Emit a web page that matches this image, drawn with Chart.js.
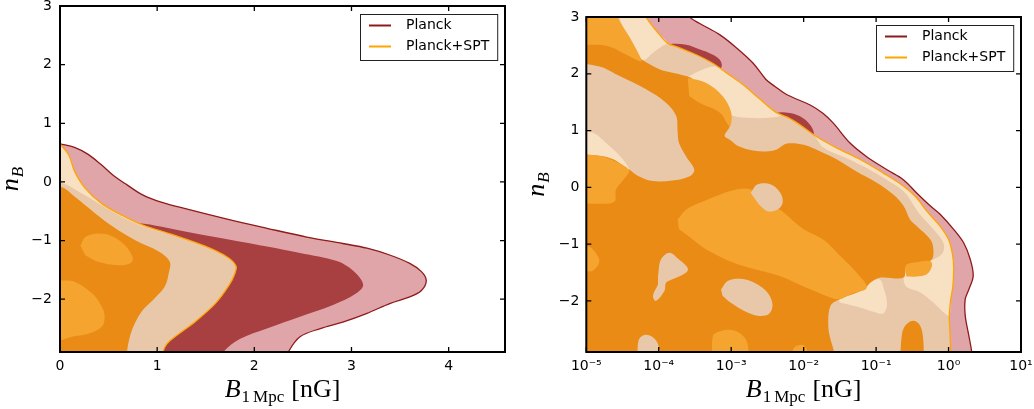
<!DOCTYPE html>
<html>
<head>
<meta charset="utf-8">
<title>Primordial magnetic field constraints</title>
<script src="https://cdn.jsdelivr.net/npm/chart.js@4.4.1/dist/chart.umd.min.js"></script>
<style>
  html, body { margin: 0; padding: 0; background: #fff; }
  #wrap { position: relative; width: 1034px; height: 409px; }
  canvas { position: absolute; top: 0; }
  #linPanel { left: 0; }
  #logPanel { left: 517px; }
</style>
</head>
<body>
<div id="wrap">
  <canvas id="linPanel" width="517" height="409"></canvas>
  <canvas id="logPanel" width="517" height="409"></canvas>
</div>
<script>
// ---- axis ticks / legend ----
const LIN_B_TICKS = [0, 1, 2, 3, 4];
const LOG_B_DECADES = [-5, -4, -3, -2, -1, 0, 1];
const NB_TICKS = [-2, -1, 0, 1, 2, 3];
const LEGEND_LABELS = ['Planck', 'Planck+SPT'];

// ---- left panel contours: [B_1Mpc (nG), n_B] ----
const LIN_PLANCK_95 = [[0, 0.65], [0.15, 0.59], [0.29, 0.47], [0.42, 0.30], [0.55, 0.11], [0.69, -0.05], [0.85, -0.22], [1.05, -0.35],
  [1.30, -0.46], [1.71, -0.63], [2.13, -0.79], [2.54, -0.94], [2.91, -1.05], [3.16, -1.13], [3.40, -1.25], [3.60, -1.39],
  [3.72, -1.53], [3.77, -1.68], [3.72, -1.85], [3.60, -1.96], [3.40, -2.07], [3.16, -2.24], [2.91, -2.39], [2.68, -2.50],
  [2.47, -2.64], [2.35, -2.90], [2.31, -3.10], [-0.3, -3.10], [-0.3, 0.65]];
const LIN_PLANCK_68 = [[0.72, -0.76], [0.80, -0.70], [1.30, -0.85], [1.83, -1.01], [2.13, -1.10], [2.47, -1.21], [2.85, -1.35],
  [3.02, -1.52], [3.12, -1.75], [3.05, -1.90], [2.81, -2.10], [2.47, -2.30], [2.13, -2.50], [1.85, -2.68], [1.68, -2.90],
  [1.62, -3.10], [0.95, -3.10], [0.95, -1.50]];
const LIN_SPT_95 = [[0, 0.65], [0.09, 0.46], [0.15, 0.18], [0.26, -0.11], [0.43, -0.37], [0.64, -0.57], [0.86, -0.74],
  [1.16, -0.90], [1.50, -1.10], [1.72, -1.28], [1.81, -1.43], [1.80, -1.56], [1.74, -1.76], [1.60, -2.07], [1.40, -2.37],
  [1.20, -2.62], [1.10, -2.76], [1.06, -2.90], [1.05, -3.10], [-0.3, -3.10], [-0.3, 0.65]];
const LIN_SPT_MID = [[-0.3, -0.01], [0, -0.01], [0.25, -0.22], [0.45, -0.42], [0.62, -0.58], [0.80, -0.72], [0.95, -0.81],
  [1.16, -0.90], [1.50, -1.10], [1.72, -1.28], [1.81, -1.43], [1.80, -1.56], [1.74, -1.76], [1.60, -2.07], [1.40, -2.37],
  [1.20, -2.62], [1.10, -2.76], [1.06, -2.90], [1.05, -3.10], [-0.3, -3.10]];
const LIN_SPT_68 = [[-0.3, -0.08], [0, -0.08], [0.15, -0.25], [0.35, -0.52], [0.55, -0.77], [0.78, -1.00], [1.02, -1.19],
  [1.13, -1.36], [1.12, -1.55], [1.08, -1.78], [0.97, -1.99], [0.85, -2.19], [0.76, -2.45], [0.71, -2.70], [0.69, -2.90],
  [0.68, -3.10], [-0.3, -3.10]];
const LIN_SPT_PEAK_1 = [[0.21, -1.09], [0.26, -0.94], [0.39, -0.88], [0.53, -0.92], [0.67, -1.08], [0.75, -1.30],
  [0.72, -1.39], [0.60, -1.42], [0.39, -1.36], [0.26, -1.25]];
const LIN_SPT_PEAK_2 = [[-0.3, -1.68], [0, -1.68], [0.15, -1.70], [0.33, -1.90], [0.43, -2.13], [0.46, -2.30], [0.43, -2.47],
  [0.29, -2.59], [0.12, -2.64], [0, -2.70], [-0.3, -2.70]];

// ---- right panel contours: [log10 B_1Mpc, n_B] ----
const LOG_PLANCK_95 = [[-3.62, 3.2], [-3.58, 3.01], [-3.44, 2.89], [-3.16, 2.69], [-2.93, 2.46], [-2.70, 2.19], [-2.52, 1.90],
  [-2.40, 1.78], [-2.23, 1.63], [-1.91, 1.45], [-1.73, 1.30], [-1.59, 1.13], [-1.36, 0.78], [-1.13, 0.54], [-0.85, 0.31],
  [-0.62, 0.13], [-0.44, -0.10], [-0.25, -0.33], [-0.12, -0.47], [0.07, -0.74], [0.21, -0.98], [0.30, -1.27], [0.34, -1.56],
  [0.28, -1.80], [0.23, -1.97], [0.23, -2.26], [0.28, -2.61], [0.32, -2.90], [0.33, -3.10], [-5.4, -3.10], [-5.4, 3.2]];
const LOG_PLANCK_68_A = [[-3.90, 2.46], [-3.85, 2.52], [-3.62, 2.51], [-3.44, 2.43], [-3.26, 2.34], [-3.16, 2.25],
  [-3.13, 2.14], [-3.18, 2.05], [-3.50, 2.22]];
const LOG_PLANCK_68_B = [[-2.45, 1.22], [-2.38, 1.31], [-2.19, 1.31], [-2.05, 1.25], [-1.93, 1.13], [-1.86, 0.97],
  [-1.90, 0.85], [-2.20, 1.05]];
const LOG_SPT_95 = [[-4.22, 3.2], [-4.18, 3.01], [-4.01, 2.72], [-3.88, 2.54], [-3.72, 2.46], [-3.49, 2.34], [-3.26, 2.19],
  [-3.07, 2.02], [-2.84, 1.81], [-2.61, 1.56], [-2.38, 1.32], [-2.20, 1.22], [-2.05, 1.10], [-1.82, 0.89], [-1.54, 0.69],
  [-1.22, 0.49], [-0.90, 0.25], [-0.62, 0.02], [-0.45, -0.17], [-0.30, -0.42], [-0.12, -0.68], [0.0, -0.92], [0.05, -1.15],
  [0.07, -1.39], [0.06, -1.74], [0.03, -1.97], [0.01, -2.26], [0.02, -2.56], [0.03, -2.90], [0.04, -3.10], [-5.4, -3.10],
  [-5.4, 3.2]];
// pale patches inside the Planck+SPT region
const LOG_SPT_PALE_A = [[-4.62, 3.2], [-4.22, 3.2], [-4.18, 3.01], [-4.01, 2.72], [-3.88, 2.54], [-3.95, 2.49], [-4.08, 2.37],
  [-4.22, 2.24], [-4.34, 2.42], [-4.45, 2.70]];
const LOG_SPT_PALE_B = [[-3.62, 1.93], [-3.44, 2.05], [-3.20, 2.13], [-3.07, 2.02], [-2.84, 1.81], [-2.61, 1.56], [-2.38, 1.32],
  [-2.30, 1.27], [-2.45, 1.23], [-2.70, 1.22], [-2.98, 1.26], [-3.10, 1.40], [-3.28, 1.62], [-3.52, 1.80]];
const LOG_SPT_PALE_C = [[-1.86, 0.93], [-1.82, 0.89], [-1.54, 0.69], [-1.22, 0.49], [-0.90, 0.25], [-0.62, 0.02], [-0.45, -0.17],
  [-0.30, -0.42], [-0.12, -0.68], [0.0, -0.92], [0.05, -1.15], [0.07, -1.39], [0.06, -1.74], [0.03, -1.97], [0.01, -2.26],
  [-0.07, -2.20], [-0.21, -2.03], [-0.39, -1.85], [-0.58, -1.75], [-0.62, -1.62], [-0.58, -1.39], [-0.35, -1.33],
  [-0.21, -1.27], [-0.08, -1.15], [-0.07, -0.98], [-0.20, -0.75], [-0.41, -0.45], [-0.62, -0.07], [-0.85, 0.13],
  [-1.13, 0.34], [-1.40, 0.51], [-1.63, 0.63], [-1.75, 0.72]];
const LOG_SPT_PALE_D = [[-1.54, -1.91], [-1.21, -1.74], [-0.96, -1.62], [-0.89, -1.80], [-0.85, -2.06], [-0.90, -2.22],
  [-1.04, -2.19], [-1.27, -2.10], [-1.50, -2.03]];
const LOG_SPT_PALE_E = [[-5.4, 1.0], [-4.93, 0.97], [-4.70, 0.75], [-4.50, 0.50], [-4.41, 0.31], [-4.62, 0.49], [-4.85, 0.56],
  [-5.4, 0.60]];
// main 68% body
const LOG_SPT_68 = [[-5.4, 2.56], [-4.80, 2.56], [-4.57, 2.49], [-4.39, 2.36], [-4.22, 2.24], [-3.99, 2.08], [-3.81, 2.02],
  [-3.62, 1.96], [-3.51, 1.89], [-3.24, 1.54], [-3.05, 1.30], [-3.02, 1.08], [-3.09, 0.91], [-3.02, 0.84], [-2.89, 0.72],
  [-2.70, 0.65], [-2.52, 0.63], [-2.38, 0.66], [-2.23, 0.77], [-2.00, 0.75], [-1.77, 0.63], [-1.54, 0.49], [-1.27, 0.28],
  [-0.99, 0.08], [-0.76, -0.13], [-0.62, -0.33], [-0.53, -0.57], [-0.44, -0.68], [-0.25, -0.92], [-0.21, -1.09],
  [-0.23, -1.27], [-0.35, -1.33], [-0.58, -1.39], [-0.62, -1.59], [-0.94, -1.59], [-1.08, -1.68], [-1.17, -1.80],
  [-1.50, -1.97], [-1.63, -2.09], [-1.66, -2.44], [-1.63, -2.67], [-1.58, -2.90], [-1.57, -3.10], [-5.4, -3.10]];
const LOG_SPT_68_LOW = [[-0.67, -3.10], [-0.64, -2.56], [-0.58, -2.41], [-0.48, -2.35], [-0.39, -2.44], [-0.35, -2.67],
  [-0.34, -3.10]];
// tan islands
const LOG_SPT_MID_A = [[-5.4, 2.22], [-4.82, 2.13], [-4.54, 1.96], [-4.18, 1.73], [-3.90, 1.49], [-3.76, 1.26], [-3.74, 0.99],
  [-3.72, 0.78], [-3.62, 0.54], [-3.51, 0.31], [-3.58, 0.19], [-3.81, 0.12], [-4.08, 0.11], [-4.27, 0.19], [-4.41, 0.32],
  [-4.59, 0.54], [-4.82, 0.78], [-5.4, 0.98]];
const LOG_SPT_MID_B = [[-2.73, -0.10], [-2.64, 0.05], [-2.45, 0.05], [-2.32, -0.10], [-2.29, -0.27], [-2.36, -0.39],
  [-2.50, -0.42], [-2.62, -0.30]];
const LOG_SPT_MID_C = [[-4.01, -1.56], [-3.97, -1.27], [-3.85, -1.15], [-3.72, -1.27], [-3.60, -1.42], [-3.62, -1.50],
  [-3.81, -1.62], [-3.90, -1.68], [-3.92, -1.82], [-4.04, -2.00], [-4.08, -1.91], [-4.01, -1.71]];
const LOG_SPT_MID_D = [[-3.14, -1.80], [-3.05, -1.65], [-2.87, -1.61], [-2.68, -1.68], [-2.50, -1.85], [-2.43, -2.06],
  [-2.48, -2.23], [-2.64, -2.26], [-2.82, -2.18], [-3.01, -2.03], [-3.12, -1.91]];
const LOG_SPT_MID_E = [[-4.29, -3.10], [-4.28, -2.70], [-4.20, -2.60], [-4.09, -2.63], [-4.01, -2.76], [-3.96, -3.10]];
// bright peaks
const LOG_SPT_PEAK_A = [[-5.4, 3.2], [-4.58, 3.2], [-4.57, 3.01], [-4.41, 2.66], [-4.31, 2.43], [-4.24, 2.22], [-4.36, 2.28],
  [-4.50, 2.37], [-4.64, 2.46], [-4.82, 2.51], [-5.4, 2.50]];
const LOG_SPT_PEAK_B = [[-5.4, 0.60], [-4.85, 0.56], [-4.62, 0.47], [-4.41, 0.31], [-4.45, 0.19], [-4.59, -0.04],
  [-4.61, -0.25], [-4.82, -0.29], [-5.4, -0.25]];
const LOG_SPT_PEAK_C = [[-3.60, 1.93], [-3.35, 1.84], [-3.12, 1.61], [-3.00, 1.32], [-3.02, 1.08], [-3.16, 1.32],
  [-3.44, 1.49], [-3.58, 1.61]];
const LOG_SPT_PEAK_D = [[-3.74, -0.57], [-3.62, -0.39], [-3.39, -0.25], [-3.16, -0.13], [-2.93, -0.04], [-2.73, -0.04],
  [-2.59, -0.22], [-2.33, -0.39], [-2.00, -0.74], [-1.73, -0.92], [-1.54, -1.15], [-1.27, -1.50], [-1.13, -1.77],
  [-1.35, -1.88], [-1.50, -1.97], [-1.63, -1.94], [-1.96, -1.77], [-2.33, -1.56], [-2.74, -1.42], [-3.02, -1.30],
  [-3.35, -1.09], [-3.53, -0.92], [-3.72, -0.74]];
const LOG_SPT_PEAK_E = [[-0.60, -1.47], [-0.58, -1.36], [-0.44, -1.32], [-0.25, -1.30], [-0.23, -1.39], [-0.30, -1.53],
  [-0.44, -1.57], [-0.58, -1.57]];
const LOG_SPT_PEAK_F = [[-5.4, -1.02], [-5.0, -1.03], [-4.89, -1.12], [-4.82, -1.30], [-4.91, -1.47], [-5.0, -1.48],
  [-5.4, -1.48]];
const LOG_SPT_PEAK_G = [[-3.26, -3.10], [-3.25, -2.61], [-3.14, -2.53], [-3.01, -2.51], [-2.87, -2.58], [-2.78, -2.73],
  [-2.75, -3.10]];
const LOG_SPT_PEAK_H = [[-2.19, -3.10], [-2.13, -2.82], [-1.99, -2.79], [-1.90, -3.10]];

const COLOR = {
  planck95: '#e0a5a8', planck68: '#a83f41', planckEdge: '#8e1a1a',
  sptPale: '#f8e1c3', sptMid: '#e9c8a9', spt68: '#e98b14', sptPeak: '#f5a42f', sptEdge: '#ffa500'
};
const LEGEND_COLORS = [COLOR.planckEdge, COLOR.sptEdge];

const SERIF = '"Liberation Serif", "DejaVu Serif", serif';
const X_TITLE = [
  { text: 'B', font: 'italic 26px ' + SERIF },
  { text: '1', font: '17px ' + SERIF, dy: 5, gap: 1 },
  { text: 'Mpc', font: '17px ' + SERIF, dy: 5, gap: 3 },
  { text: '[nG]', font: '26px ' + SERIF, gap: 7 }
];
const Y_TITLE = [
  { text: 'n', font: 'italic 26px ' + SERIF },
  { text: 'B', font: 'italic 17px ' + SERIF, dy: 5, gap: 1 }
];

Chart.defaults.font.family = '"DejaVu Sans", sans-serif';
Chart.defaults.font.size = 14;
Chart.defaults.color = '#000';

function region(points, color, logX) {
  return {
    data: points.map(([b, n]) => ({ x: logX ? Math.pow(10, b) : b, y: n })),
    backgroundColor: color,
    borderWidth: 0,
    fill: 'shape',
    pointRadius: 0,
    tension: 0.35
  };
}

function contourLine(points, color, logX) {
  return Object.assign(region(points, 'rgba(0,0,0,0)', logX), {
    fill: false, borderColor: color, borderWidth: 1.3
  });
}

// first layer in the list is painted first
function stack(layers) {
  layers.forEach((d, i) => { d.order = layers.length - i; });
  return layers;
}

function drawParts(ctx, parts, cx, baseline) {
  let w = 0;
  parts.forEach(p => {
    ctx.font = p.font;
    p.w = ctx.measureText(p.text).width;
    w += p.w + (p.gap || 0);
  });
  let x = cx - w / 2;
  ctx.textAlign = 'left';
  ctx.textBaseline = 'alphabetic';
  parts.forEach(p => {
    x += p.gap || 0;
    ctx.font = p.font;
    ctx.fillText(p.text, x, baseline + (p.dy || 0));
    x += p.w;
  });
}

// frame, inward ticks, axis titles and legend box
const decor = {
  id: 'decor',
  afterDraw(chart) {
    const { ctx, chartArea: a, scales: { x, y } } = chart;
    ctx.save();
    ctx.strokeStyle = '#000';
    ctx.lineWidth = 1.3;
    ctx.beginPath();
    x.ticks.forEach(t => {
      const px = x.getPixelForValue(t.value);
      ctx.moveTo(px, a.bottom); ctx.lineTo(px, a.bottom - 5);
      ctx.moveTo(px, a.top); ctx.lineTo(px, a.top + 5);
    });
    y.ticks.forEach(t => {
      const py = y.getPixelForValue(t.value);
      ctx.moveTo(a.left, py); ctx.lineTo(a.left + 5, py);
      ctx.moveTo(a.right, py); ctx.lineTo(a.right - 5, py);
    });
    ctx.stroke();
    ctx.lineWidth = 2;
    ctx.strokeRect(a.left, a.top, a.right - a.left, a.bottom - a.top);

    ctx.fillStyle = '#000';
    drawParts(ctx, X_TITLE, (a.left + a.right) / 2, 397);
    ctx.save();
    ctx.translate(a.left - 42, (a.top + a.bottom) / 2);
    ctx.rotate(-Math.PI / 2);
    drawParts(ctx, Y_TITLE, 0, 0);
    ctx.restore();

    ctx.font = '14px "DejaVu Sans"';
    const tw = Math.max(...LEGEND_LABELS.map(s => ctx.measureText(s).width));
    const bw = 9 + 22 + 15 + tw + 8;
    const bh = 46;
    const bx = Math.round(a.right - 7.5 - bw);
    const by = Math.round(a.top + 7.5);
    ctx.fillStyle = '#fff';
    ctx.fillRect(bx, by, bw, bh);
    ctx.strokeStyle = '#222';
    ctx.lineWidth = 1;
    ctx.strokeRect(bx + 0.5, by + 0.5, bw, bh);
    ctx.textBaseline = 'middle';
    ctx.textAlign = 'left';
    LEGEND_LABELS.forEach((label, i) => {
      const ly = by + 11.5 + i * 21;
      ctx.strokeStyle = LEGEND_COLORS[i];
      ctx.lineWidth = 2;
      ctx.beginPath();
      ctx.moveTo(bx + 9, ly);
      ctx.lineTo(bx + 31, ly);
      ctx.stroke();
      ctx.fillStyle = '#000';
      ctx.fillText(label, bx + 46, ly);
    });
    ctx.restore();
  }
};

const SUP = { '-': '\u207b', '0': '\u2070', '1': '\u00b9', '2': '\u00b2', '3': '\u00b3', '4': '\u2074',
  '5': '\u2075', '6': '\u2076', '7': '\u2077', '8': '\u2078', '9': '\u2079' };
const minus = v => String(v).replace('-', '\u2212');

function nbAxis(width, padding) {
  return {
    type: 'linear', min: -2.9, max: 3,
    grid: { display: false, drawTicks: false },
    border: { display: false },
    ticks: { padding, callback: minus },
    afterBuildTicks: s => { s.ticks = NB_TICKS.map(value => ({ value })); },
    afterFit: s => { s.width = width; s.paddingTop = 0; s.paddingBottom = 0; }
  };
}

function makePanel(id, datasets, xAxis, yWidth, yPad, padding) {
  return new Chart(document.getElementById(id), {
    type: 'line',
    data: { datasets },
    options: {
      responsive: false,
      animation: false,
      events: [],
      layout: { padding },
      elements: { line: { capBezierPoints: false } },
      plugins: { legend: { display: false }, tooltip: { enabled: false } },
      scales: { x: xAxis, y: nbAxis(yWidth, yPad) }
    },
    plugins: [decor]
  });
}

makePanel('linPanel', stack([
  region(LIN_PLANCK_95, COLOR.planck95),
  region(LIN_PLANCK_68, COLOR.planck68),
  region(LIN_SPT_95, COLOR.sptPale),
  region(LIN_SPT_MID, COLOR.sptMid),
  region(LIN_SPT_68, COLOR.spt68),
  region(LIN_SPT_PEAK_1, COLOR.sptPeak),
  region(LIN_SPT_PEAK_2, COLOR.sptPeak),
  contourLine(LIN_PLANCK_95, COLOR.planckEdge),
  contourLine(LIN_SPT_95, COLOR.sptEdge)
]), {
  type: 'linear', min: 0, max: 4.58,
  grid: { display: false, drawTicks: false },
  border: { display: false },
  ticks: { padding: 6, maxRotation: 0, autoSkip: false, callback: minus },
  afterBuildTicks: s => { s.ticks = LIN_B_TICKS.map(value => ({ value })); },
  afterFit: s => { s.height = 57; s.paddingLeft = 0; s.paddingRight = 0; }
}, 60, 8, { left: 0, top: 6, right: 12, bottom: 0 });

makePanel('logPanel', stack([
  region(LOG_PLANCK_95, COLOR.planck95, true),
  region(LOG_PLANCK_68_A, COLOR.planck68, true),
  region(LOG_PLANCK_68_B, COLOR.planck68, true),
  region(LOG_SPT_95, COLOR.sptMid, true),
  region(LOG_SPT_PALE_A, COLOR.sptPale, true),
  region(LOG_SPT_PALE_B, COLOR.sptPale, true),
  region(LOG_SPT_PALE_C, COLOR.sptPale, true),
  region(LOG_SPT_PALE_D, COLOR.sptPale, true),
  region(LOG_SPT_68, COLOR.spt68, true),
  region(LOG_SPT_PEAK_A, COLOR.sptPeak, true),
  region(LOG_SPT_MID_A, COLOR.sptMid, true),
  region(LOG_SPT_PALE_E, COLOR.sptPale, true),
  region(LOG_SPT_PEAK_B, COLOR.sptPeak, true),
  region(LOG_SPT_PEAK_C, COLOR.sptPeak, true),
  region(LOG_SPT_PEAK_D, COLOR.sptPeak, true),
  region(LOG_SPT_MID_B, COLOR.sptMid, true),
  region(LOG_SPT_MID_C, COLOR.sptMid, true),
  region(LOG_SPT_MID_D, COLOR.sptMid, true),
  region(LOG_SPT_MID_E, COLOR.sptMid, true),
  region(LOG_SPT_PEAK_E, COLOR.sptPeak, true),
  region(LOG_SPT_PEAK_F, COLOR.sptPeak, true),
  region(LOG_SPT_PEAK_G, COLOR.sptPeak, true),
  region(LOG_SPT_PEAK_H, COLOR.sptPeak, true),
  region(LOG_SPT_68_LOW, COLOR.spt68, true),
  contourLine(LOG_PLANCK_95, COLOR.planckEdge, true),
  contourLine(LOG_SPT_95, COLOR.sptEdge, true)
]), {
  type: 'logarithmic', min: 1e-5, max: 10,
  grid: { display: false, drawTicks: false },
  border: { display: false },
  ticks: {
    padding: 6, maxRotation: 0, autoSkip: false,
    callback: v => '10' + String(Math.round(Math.log10(v))).split('').map(c => SUP[c]).join('')
  },
  afterBuildTicks: s => { s.ticks = LOG_B_DECADES.map(e => ({ value: Math.pow(10, e) })); },
  afterFit: s => { s.height = 57; s.paddingLeft = 0; s.paddingRight = 0; }
}, 69.3, 7, { left: 0, top: 17, right: 13, bottom: 0 });
</script>
</body>
</html>
